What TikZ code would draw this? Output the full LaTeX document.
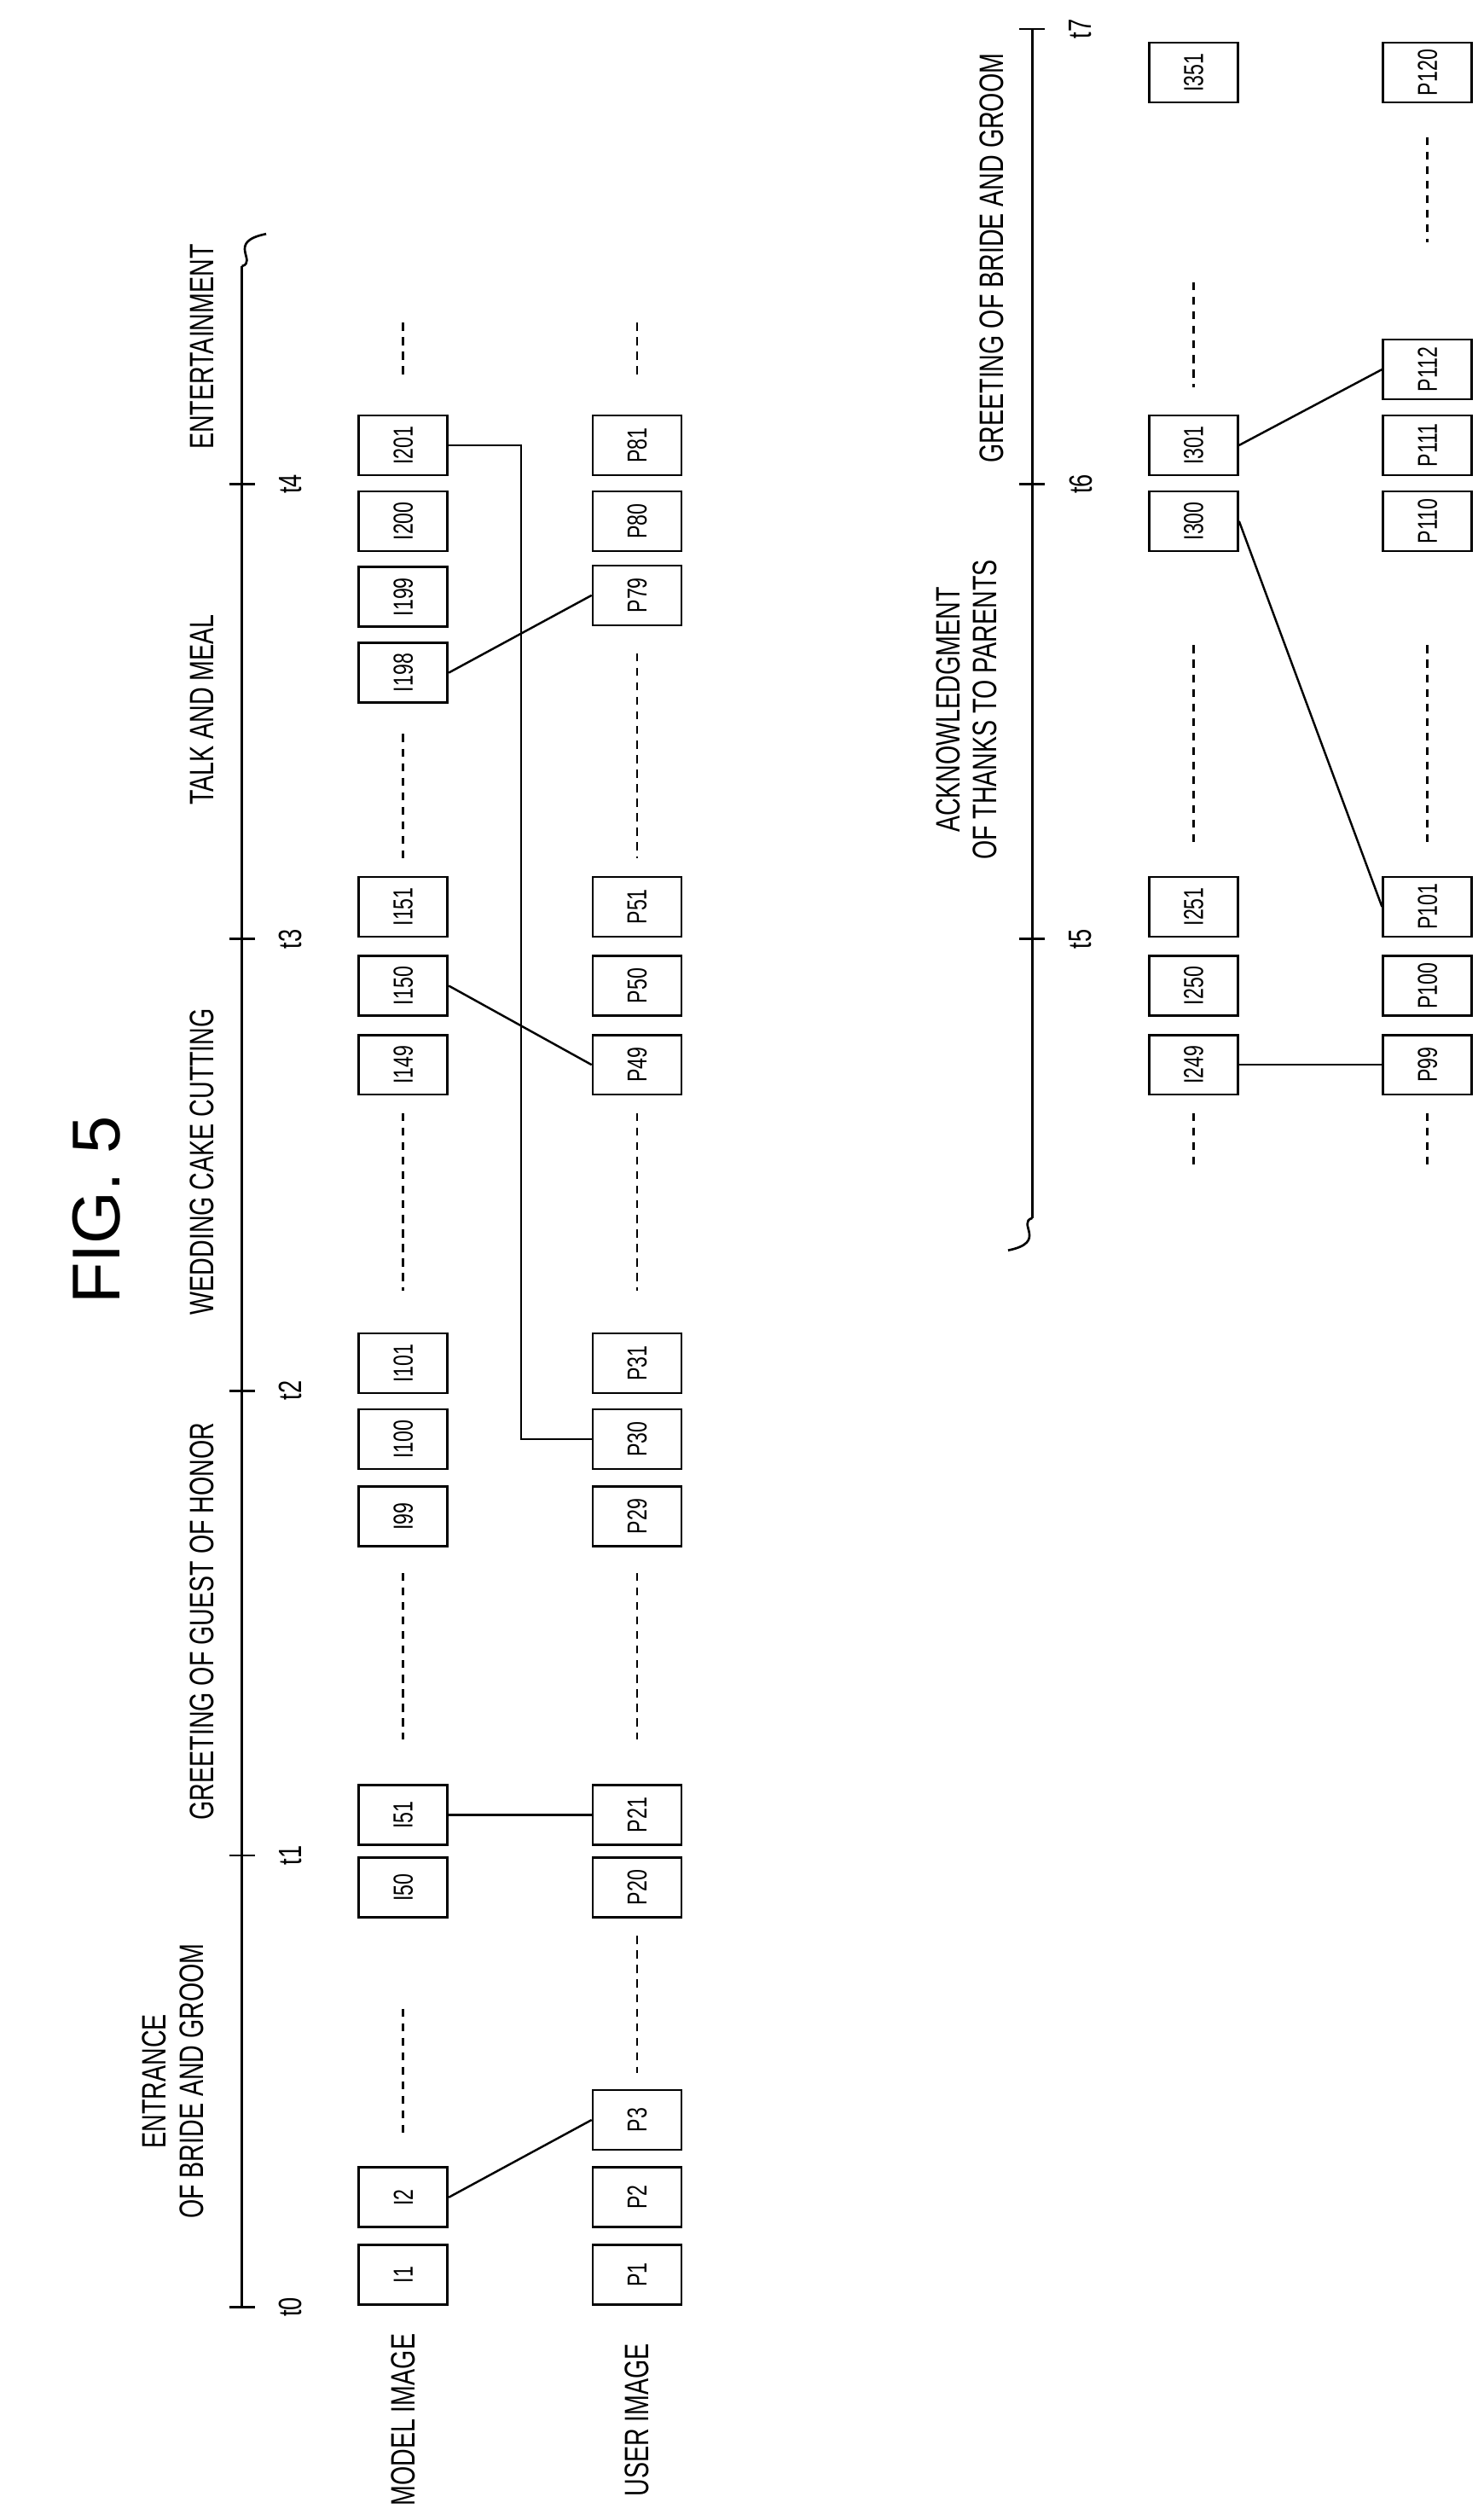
\documentclass[tikz,border=0pt]{standalone}
\usepackage{graphicx}
\usepackage{fontspec}
\setmainfont{Liberation Sans}
\newcommand\rt[1]{\rotatebox{90}{\scalebox{0.72}[1]{#1}}}
\begin{document}
\begin{tikzpicture}[x=1pt,y=-1pt,line width=1.4pt,
  box/.style={draw,minimum width=55pt,minimum height=37pt,inner sep=0pt,font=\fontsize{17}{17}\selectfont},
  lab/.style={inner sep=0pt,font=\fontsize{21}{23}\selectfont,align=center},
  tk/.style={inner sep=0pt,font=\fontsize{20}{20}\selectfont},
  dsh/.style={dash pattern=on 5pt off 4pt},
  conn/.style={line width=1.3pt}]
\useasboundingbox (0,0) rectangle (920,1562);
\node[inner sep=0pt,font=\fontsize{42}{42}\selectfont] (fig) at (60,750) {\rotatebox{90}{FIG. 5}};
% axis 1
\coordinate (a0) at (150,1430);
\coordinate (a1) at (150,165);
\draw (a0) -- (a1);
\draw (a1) .. controls (160,162) and (140,150) .. (165,145);
\foreach \y/\t in {1430/t0,1150/t1,862/t2,582/t3,300/t4}{
  \draw (142,\y) -- (158,\y);
  \node[tk] at (180,\y) {\rt{\t}};}
\node[lab] (l1) at (110,1290) {\rotatebox{90}{\scalebox{0.72}[1]{\begin{tabular}{c}ENTRANCE\\OF BRIDE AND GROOM\end{tabular}}}};
\node[lab] (l2) at (125,1005) {\rt{GREETING OF GUEST OF HONOR}};
\node[lab] (l3) at (125,720) {\rt{WEDDING CAKE CUTTING}};
\node[lab] (l4) at (125,440) {\rt{TALK AND MEAL}};
\node[lab] (l5) at (125,215) {\rt{ENTERTAINMENT}};
\node[lab] (mi) at (250,1500) {\rt{MODEL IMAGE}};
\node[lab] (ui) at (395,1500) {\rt{USER IMAGE}};
\foreach \n/\y in {I1/1410,I2/1362,I50/1170,I51/1125,I99/940,I100/892,I101/845,I149/660,I150/611,I151/562,I198/417,I199/370,I200/323,I201/276}
  \node[box] (\n) at (250,\y) {\rt{\n}};
\foreach \n/\y in {P1/1410,P2/1362,P3/1314,P20/1170,P21/1125,P29/940,P30/892,P31/845,P49/660,P50/611,P51/562,P79/369,P80/323,P81/276}
  \node[box] (\n) at (395,\y) {\rt{\n}};
\foreach \a/\b in {1245/1322,975/1078,690/800,455/532,200/235}
  \draw[dsh] (250,\a) -- (250,\b);
\foreach \a/\b in {1200/1285,975/1078,690/800,405/532,200/235}
  \draw[dsh] (395,\a) -- (395,\b);
\draw[conn] (I2.east) -- (P3.west);
\draw[conn] (I51.east) -- (P21.west);
\draw[conn] (I150.east) -- (P49.west);
\draw[conn] (I198.east) -- (P79.west);
\draw[conn] (I201.east) -- ++(45,0) |- (P30.west);
% axis 2
\coordinate (b0) at (640,18);
\coordinate (b1) at (640,755);
\draw (b0) -- (b1);
\draw (b1) .. controls (630,758) and (650,770) .. (625,775);
\foreach \y/\t in {582/t5,300/t6,18/t7}{
  \draw (632,\y) -- (648,\y);
  \node[tk] at (670,\y) {\rt{\t}};}
\node[lab] (l6) at (602,440) {\rotatebox{90}{\scalebox{0.72}[1]{\begin{tabular}{c}ACKNOWLEDGMENT\\OF THANKS TO PARENTS\end{tabular}}}};
\node[lab] (l7) at (615,160) {\rt{GREETING OF BRIDE AND GROOM}};
\foreach \n/\y in {I249/660,I250/611,I251/562,I300/323,I301/276,I351/45}
  \node[box] (\n) at (740,\y) {\rt{\n}};
\foreach \n/\y in {P99/660,P100/611,P101/562,P110/323,P111/276,P112/229,P120/45}
  \node[box] (\n) at (885,\y) {\rt{\n}};
\foreach \a/\b in {690/722,400/522,175/240}
  \draw[dsh] (740,\a) -- (740,\b);
\foreach \a/\b in {690/722,400/522,85/150}
  \draw[dsh] (885,\a) -- (885,\b);
\draw[conn] (I249.east) -- (P99.west);
\draw[conn] (I300.east) -- (P101.west);
\draw[conn] (I301.east) -- (P112.west);
\end{tikzpicture}
\end{document}
